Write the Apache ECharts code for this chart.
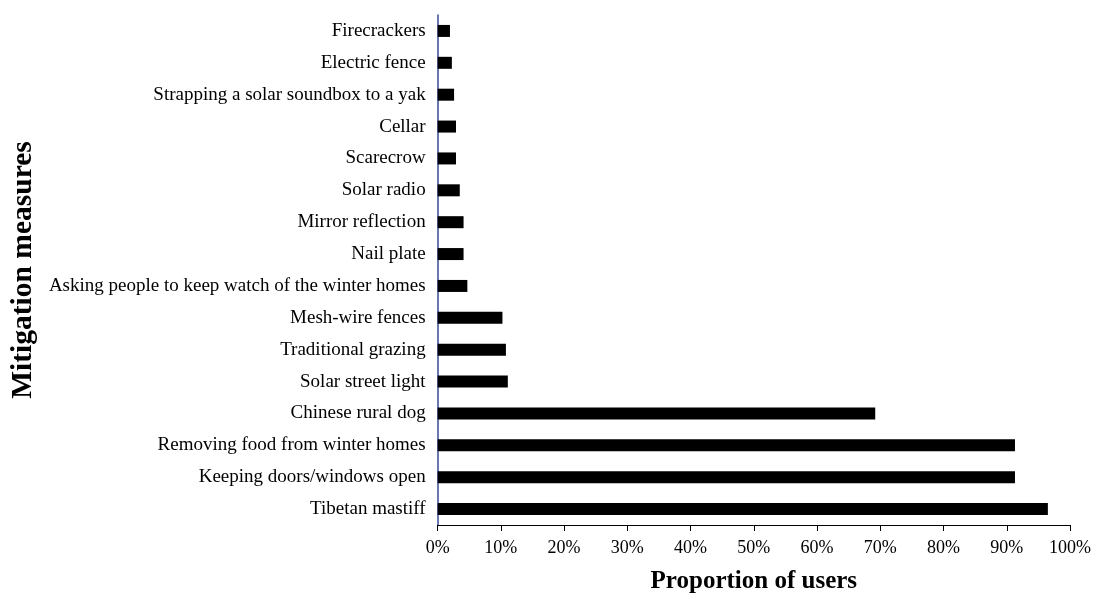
<!DOCTYPE html>
<html>
<head>
<meta charset="utf-8">
<script src="https://cdn.jsdelivr.net/npm/echarts@6/dist/echarts.min.js"></script>
<style>html,body{margin:0;padding:0;background:#fff;}#chart{width:1094px;height:599px;}</style>
</head>
<body>
<div id="chart"></div>
<script>
const categories = [
  "Tibetan mastiff",
  "Keeping doors/windows open",
  "Removing food from winter homes",
  "Chinese rural dog",
  "Solar street light",
  "Traditional grazing",
  "Mesh-wire fences",
  "Asking people to keep watch of the winter homes",
  "Nail plate",
  "Mirror reflection",
  "Solar radio",
  "Scarecrow",
  "Cellar",
  "Strapping a solar soundbox to a yak",
  "Electric fence",
  "Firecrackers"
];
const proportions = [96.5, 91.3, 91.3, 69.2, 11.1, 10.8, 10.25, 4.7, 4.1, 4.1, 3.5, 2.9, 2.9, 2.6, 2.25, 1.95];
const xTicks = [0, 10, 20, 30, 40, 50, 60, 70, 80, 90, 100];
const xTitle = "Proportion of users";
const yTitle = "Mitigation measures";

const font = "'Liberation Serif', 'Times New Roman', serif";
const chart = echarts.init(document.getElementById('chart'));
chart.setOption({
  backgroundColor: '#fff',
  animation: false,
  grid: { left: 437, width: 634, top: 15, height: 514, containLabel: false },
  xAxis: {
    type: 'value', min: xTicks[0], max: xTicks[xTicks.length - 1], interval: 10,
    axisLine: { show: true, lineStyle: { color: '#000', width: 1 } },
    axisTick: { show: true, length: 6, lineStyle: { color: '#000' } },
    splitLine: { show: false },
    axisLabel: { formatter: v => v + '%', color: '#000', fontFamily: font, fontSize: 18, margin: 14 },
    name: xTitle, nameLocation: 'middle', nameGap: 44,
    nameTextStyle: { color: '#000', fontFamily: font, fontSize: 25, fontWeight: 'bold' }
  },
  yAxis: {
    type: 'category', data: categories,
    axisLine: { show: true, lineStyle: { color: '#3a4a9a', width: 1.5 } },
    axisTick: { show: false },
    axisLabel: { color: '#000', fontFamily: font, fontSize: 19, margin: 12 },
    name: yTitle, nameLocation: 'middle', nameGap: 393, nameRotate: 90,
    nameTextStyle: { color: '#000', fontFamily: font, fontSize: 29.5, fontWeight: 'bold' }
  },
  series: [{
    type: 'bar', data: proportions, barWidth: 12,
    itemStyle: { color: '#000' }
  }]
});
</script>
</body>
</html>
